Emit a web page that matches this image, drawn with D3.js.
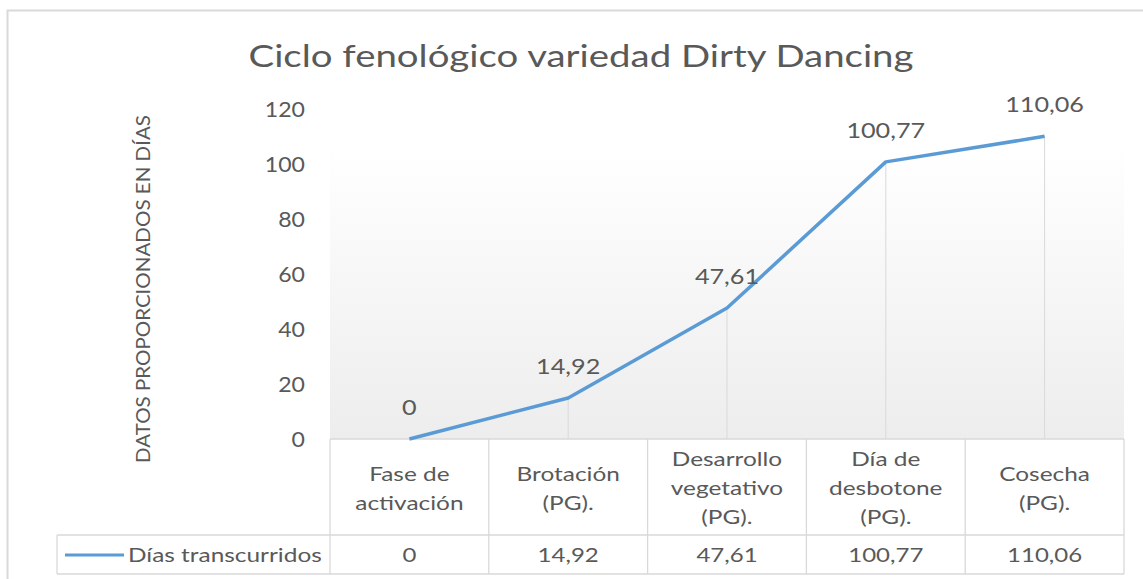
<!DOCTYPE html>
<html>
<head>
<meta charset="utf-8">
<script src="https://cdn.jsdelivr.net/npm/d3@7"></script>
<style>
  body { margin: 0; background: #fff; }
  text { font-family: Lato, "Open Sans", sans-serif; fill: #595959; }
</style>
</head>
<body>
<script>
// chart data
var categories = [
  ["Fase de", "activación"],
  ["Brotación", "(PG)."],
  ["Desarrollo", "vegetativo", "(PG)."],
  ["Día de", "desbotone", "(PG)."],
  ["Cosecha", "(PG)."]
];
var valueLabels = ["0", "14,92", "47,61", "100,77", "110,06"];
var values = [0, 14.92, 47.61, 100.77, 110.06];
var yTicks = [0, 20, 40, 60, 80, 100, 120];
var seriesName = "Días transcurridos";

var width = 1143, height = 579;
var svg = d3.select("body").append("svg")
  .attr("width", width)
  .attr("height", height);

// stretch text sideways, the original font is wider
function widen(sel, k) {
  sel.each(function () {
    var w = this.getComputedTextLength();
    d3.select(this).attr("textLength", w * k).attr("lengthAdjust", "spacingAndGlyphs");
  });
}

// outer border
svg.append("path")
  .attr("d", "M7.5,579 V10.5 H1143")
  .attr("fill", "none")
  .attr("stroke", "#d9d9d9")
  .attr("stroke-width", 2);

var x = d3.scaleBand()
  .domain(d3.range(categories.length))
  .range([330, 1124]);

var y = d3.scaleLinear()
  .domain([0, 120])
  .range([439, 109]);

// plot background gradient
var grad = svg.append("defs").append("linearGradient")
  .attr("id", "bg").attr("x1", 0).attr("y1", 0).attr("x2", 0).attr("y2", 1);
grad.append("stop").attr("offset", "0%").attr("stop-color", "#ffffff");
grad.append("stop").attr("offset", "100%").attr("stop-color", "#ededed");

svg.append("rect")
  .attr("x", 330).attr("y", 147)
  .attr("width", 794).attr("height", y(0) - 147)
  .attr("fill", "url(#bg)");

// title
svg.append("text")
  .attr("x", 581).attr("y", 67)
  .attr("text-anchor", "middle")
  .attr("font-size", "31px")
  .attr("textLength", 665)
  .attr("lengthAdjust", "spacingAndGlyphs")
  .text("Ciclo fenológico variedad Dirty Dancing");

// y axis labels
var yAxis = d3.axisLeft(y).tickValues(yTicks).tickSize(0).tickPadding(0);
var gy = svg.append("g").attr("transform", "translate(305,0)").call(yAxis);
gy.select(".domain").remove();
gy.selectAll("text")
  .attr("font-size", "21px")
  .attr("dy", "0.35em")
  .style("fill", "#595959")
  .style("font-family", "Lato, 'Open Sans', sans-serif")
  .call(widen, 1.1);

// y axis title
svg.append("text")
  .attr("transform", "translate(150,289) rotate(-90)")
  .attr("text-anchor", "middle")
  .attr("font-size", "19px")
  .attr("textLength", 348)
  .attr("lengthAdjust", "spacingAndGlyphs")
  .text("DATOS PROPORCIONADOS EN DÍAS");

// drop lines
svg.selectAll(".drop")
  .data(values)
  .enter()
  .append("line")
  .attr("x1", function (d, i) { return x(i) + x.bandwidth() / 2; })
  .attr("x2", function (d, i) { return x(i) + x.bandwidth() / 2; })
  .attr("y1", function (d) { return y(d); })
  .attr("y2", y(0))
  .attr("stroke", "#d9d9d9")
  .attr("stroke-width", 1);

// data table
var tableTop = 439, row1 = 535, row2 = 574;
var tbl = svg.append("g")
  .attr("stroke", "#d9d9d9")
  .attr("stroke-width", 1.3)
  .attr("fill", "none");
tbl.append("line").attr("x1", 330).attr("x2", 1124).attr("y1", tableTop).attr("y2", tableTop);
tbl.append("line").attr("x1", 57).attr("x2", 1124).attr("y1", row1).attr("y2", row1);
tbl.append("line").attr("x1", 57).attr("x2", 1124).attr("y1", row2).attr("y2", row2);
tbl.append("line").attr("x1", 57).attr("x2", 57).attr("y1", row1).attr("y2", row2);
tbl.selectAll(".col")
  .data(d3.range(categories.length + 1))
  .enter()
  .append("line")
  .attr("x1", function (i) { return i < categories.length ? x(i) : x.range()[1]; })
  .attr("x2", function (i) { return i < categories.length ? x(i) : x.range()[1]; })
  .attr("y1", tableTop)
  .attr("y2", row2);

// category labels, one text per line
categories.forEach(function (lines, i) {
  var lh = 29;
  var start = (tableTop + row1) / 2 - (lines.length - 1) * lh / 2 + 8;
  svg.selectAll(".cat" + i)
    .data(lines)
    .enter()
    .append("text")
    .attr("x", x(i) + x.bandwidth() / 2)
    .attr("y", function (d, k) { return start + k * lh; })
    .attr("text-anchor", "middle")
    .attr("font-size", "20px")
    .text(function (d) { return d; })
    .call(widen, 1.22);
});

// table values
svg.selectAll(".val")
  .data(valueLabels)
  .enter()
  .append("text")
  .attr("x", function (d, i) { return x(i) + x.bandwidth() / 2; })
  .attr("y", 562)
  .attr("text-anchor", "middle")
  .attr("font-size", "20px")
  .text(function (d) { return d; })
  .call(widen, 1.2);

// legend key
svg.append("line")
  .attr("x1", 65).attr("x2", 124)
  .attr("y1", 555).attr("y2", 555)
  .attr("stroke", "#5b9bd5")
  .attr("stroke-width", 3);
svg.append("text")
  .attr("x", 128).attr("y", 562)
  .attr("font-size", "20px")
  .text(seriesName)
  .call(widen, 1.22);

// series line
var line = d3.line()
  .x(function (d, i) { return x(i) + x.bandwidth() / 2; })
  .y(function (d) { return y(d); });

svg.append("path")
  .datum(values)
  .attr("d", line)
  .attr("fill", "none")
  .attr("stroke", "#5b9bd5")
  .attr("stroke-width", 3.5)
  .attr("stroke-linejoin", "round");

// data labels
svg.selectAll(".lbl")
  .data(values)
  .enter()
  .append("text")
  .attr("x", function (d, i) { return x(i) + x.bandwidth() / 2; })
  .attr("y", function (d) { return y(d) - 24; })
  .attr("text-anchor", "middle")
  .attr("font-size", "21px")
  .text(function (d, i) { return valueLabels[i]; })
  .call(widen, 1.2);
</script>
</body>
</html>
